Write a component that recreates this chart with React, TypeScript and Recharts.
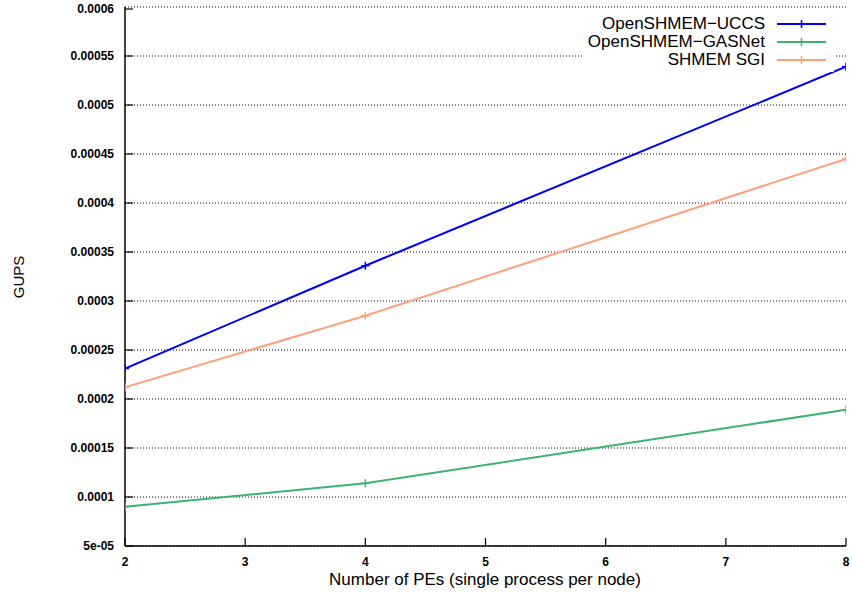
import { LineChart, Line, XAxis, YAxis, CartesianGrid, Legend } from "recharts";

const peCounts = [2, 4, 8];
const uccsGups = [0.000231, 0.000336, 0.000539];
const gasnetGups = [0.00009, 0.000114, 0.000189];
const sgiGups = [0.000212, 0.000285, 0.000445];

const xTicks = [2, 3, 4, 5, 6, 7, 8];
const yTicks = [
  0.00005, 0.0001, 0.00015, 0.0002, 0.00025, 0.0003, 0.00035, 0.0004, 0.00045,
  0.0005, 0.00055, 0.0006,
];
const yTickLabels = [
  "5e-05", "0.0001", "0.00015", "0.0002", "0.00025", "0.0003", "0.00035",
  "0.0004", "0.00045", "0.0005", "0.00055", "0.0006",
];

const series = [
  { key: "uccs", name: "OpenSHMEM\u2212UCCS", color: "#0000f0" },
  { key: "gasnet", name: "OpenSHMEM\u2212GASNet", color: "#3cb371" },
  { key: "sgi", name: "SHMEM SGI", color: "#ffa07a" },
];

const data = peCounts.map((pe, i) => ({
  pe,
  uccs: uccsGups[i],
  gasnet: gasnetGups[i],
  sgi: sgiGups[i],
}));

const fmtY = (v: number) => {
  const i = yTicks.findIndex((t) => Math.abs(t - v) < 1e-9);
  return i >= 0 ? yTickLabels[i] : String(v);
};

const TICK = 8;
const GAP = 11;

const plusDot = (color: string) => (props: any) => {
  const { cx, cy, index } = props;
  return (
    <path
      key={index}
      d={`M${cx - 4},${cy}h8M${cx},${cy - 4}v8`}
      stroke={color}
      strokeWidth={1.5}
      fill="none"
    />
  );
};

// gnuplot style ticks: short marks pointing into the plot, bold labels outside
const LeftTick = (props: any) => {
  const { x, y, payload } = props;
  const ax = x + GAP;
  return (
    <g>
      <line x1={ax} x2={ax + TICK} y1={y} y2={y} stroke="#000" strokeWidth={1.2} />
      <text x={x} y={y} dy="0.35em" textAnchor="end" fontSize={12} fontWeight="bold" fill="#000">
        {fmtY(payload.value)}
      </text>
    </g>
  );
};

const BottomTick = (props: any) => {
  const { x, y, payload } = props;
  const ay = y - GAP;
  return (
    <g>
      <line x1={x} x2={x} y1={ay} y2={ay - TICK} stroke="#000" strokeWidth={1.2} />
      <text x={x} y={y} dy="0.75em" textAnchor="middle" fontSize={12} fontWeight="bold" fill="#000">
        {payload.value}
      </text>
    </g>
  );
};

const TopTick = (props: any) => {
  const { x, y } = props;
  return <line x1={x} x2={x} y1={y} y2={y + TICK} stroke="#000" strokeWidth={1.2} />;
};

const RightTick = (props: any) => {
  const { x, y } = props;
  return <line x1={x - TICK} x2={x} y1={y} y2={y} stroke="#000" strokeWidth={1.2} />;
};

function LegendBox() {
  return (
    <div
      style={{
        fontSize: 17,
        color: "#000",
        lineHeight: "18px",
        background: "#fff",
        padding: "3px 0 3px 0",
      }}
    >
      {series.map((s) => (
        <div key={s.key} style={{ display: "flex", alignItems: "center", height: 18 }}>
          <span style={{ width: 181, textAlign: "right", whiteSpace: "nowrap" }}>{s.name}</span>
          <svg width={65} height={18}>
            <line x1={12} y1={9} x2={61} y2={9} stroke={s.color} strokeWidth={2} />
            <path d="M36.5,5v8M32.5,9h8" stroke={s.color} strokeWidth={1.5} />
          </svg>
        </div>
      ))}
    </div>
  );
}

export default function App() {
  return (
    <div
      style={{
        position: "absolute",
        left: 0,
        top: 0,
        width: 852,
        height: 599,
        background: "#fff",
        fontFamily: "'Liberation Sans', Arial, Helvetica, sans-serif",
      }}
    >
      <LineChart
        width={852}
        height={599}
        data={data}
        margin={{ top: 7, right: 6, left: 0, bottom: 0 }}
      >
        <CartesianGrid
          vertical={false}
          stroke="#000"
          strokeDasharray="1 2"
          strokeWidth={1}
        />
        <XAxis
          dataKey="pe"
          type="number"
          domain={[2, 8]}
          ticks={xTicks}
          allowDataOverflow
          height={53}
          tickSize={0}
          tickMargin={GAP}
          tick={<BottomTick />}
          tickLine={false}
          axisLine={{ stroke: "#000", strokeWidth: 1.5 }}
          label={{
            content: () => (
              <text x={485} y={585} textAnchor="middle" fontSize={17} fill="#000">
                Number of PEs (single process per node)
              </text>
            ),
          }}
        />
        <XAxis
          xAxisId="top"
          orientation="top"
          dataKey="pe"
          type="number"
          domain={[2, 8]}
          ticks={xTicks}
          allowDataOverflow
          height={0}
          tickSize={0}
          tickMargin={0}
          tick={<TopTick />}
          tickLine={false}
          axisLine={{ stroke: "#000", strokeWidth: 1.5 }}
        />
        <YAxis
          type="number"
          domain={[0.00005, 0.0006]}
          ticks={yTicks}
          allowDataOverflow
          width={125}
          tickSize={0}
          tickMargin={GAP}
          tick={<LeftTick />}
          tickLine={false}
          axisLine={{ stroke: "#000", strokeWidth: 1.5 }}
          label={{
            content: () => (
              <text
                x={18}
                y={277}
                transform="rotate(-90 18 277)"
                textAnchor="middle"
                dominantBaseline="central"
                fontSize={15}
                fill="#000"
              >
                GUPS
              </text>
            ),
          }}
        />
        <YAxis
          yAxisId="right"
          orientation="right"
          type="number"
          domain={[0.00005, 0.0006]}
          ticks={yTicks}
          allowDataOverflow
          width={0}
          tickSize={0}
          tickMargin={0}
          tick={<RightTick />}
          tickLine={false}
          axisLine={{ stroke: "#000", strokeWidth: 1.5 }}
        />
        <Legend
          layout="horizontal"
          verticalAlign="middle"
          align="center"
          content={() => <LegendBox />}
          wrapperStyle={{ position: "absolute", top: 12, left: 584, width: 250 }}
        />
        {series.map((s) => (
          <Line
            key={s.key}
            dataKey={s.key}
            name={s.name}
            type="linear"
            stroke={s.color}
            strokeWidth={2}
            dot={plusDot(s.color)}
            activeDot={false}
            isAnimationActive={false}
          />
        ))}
      </LineChart>
    </div>
  );
}
